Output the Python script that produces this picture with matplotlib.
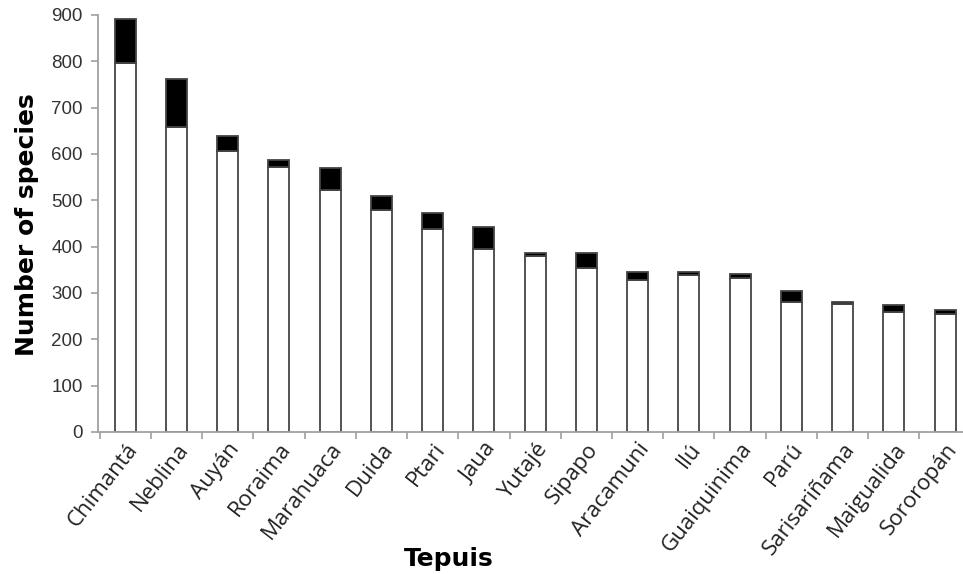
import matplotlib
matplotlib.use("Agg")
import matplotlib.pyplot as plt
import numpy as np

tepuis = ["Chimantá", "Neblina", "Auyán", "Roraima", "Marahuaca", "Duida", "Ptari",
          "Jaua", "Yutajé", "Sipapo", "Aracamuni", "Ilú", "Guaiquinima", "Parú",
          "Sarisariñama", "Maigualida", "Sororopán"]
shared_species = [796, 659, 606, 571, 523, 479, 438, 395, 379, 353, 328, 338, 332, 281, 276, 258, 255]
endemic_species = [95, 103, 32, 16, 47, 31, 35, 48, 8, 34, 17, 7, 10, 24, 5, 16, 8]
y_ticks = [0, 100, 200, 300, 400, 500, 600, 700, 800, 900]

fig = plt.figure(figsize=(9.63, 5.74), dpi=100)
ax = fig.add_axes([0.1018, 0.2474, 0.8982, 0.7265])

x = np.arange(len(tepuis))
w = 0.41
edge = "#444444"
ax.bar(x, shared_species, width=w, color="white", edgecolor=edge, linewidth=1.3, zorder=2)
ax.bar(x, endemic_species, width=w, bottom=shared_species, color="black",
       edgecolor=edge, linewidth=1.3, zorder=2)

ax.set_xlim(-0.53, 16.35)
ax.set_ylim(0, 900)
ax.set_yticks(y_ticks)

spine_c = "#a0a0a0"
for s in ["top", "right"]:
    ax.spines[s].set_visible(False)
for s in ["left", "bottom"]:
    ax.spines[s].set_color(spine_c)
    ax.spines[s].set_linewidth(1.3)

ax.tick_params(axis="y", direction="out", length=5, width=1.2, color=spine_c,
               labelsize=13.5, labelcolor="#333333", pad=6)
for lab in ax.get_yticklabels():
    lab.set_family("Liberation Sans")

ax.set_xticks(x)
ax.set_xticklabels(tepuis, rotation=52, ha="right", rotation_mode="anchor",
                   fontsize=16, color="#222222", family="Open Sans")
ax.tick_params(axis="x", which="major", length=0, pad=5)
ax.set_xticks(np.arange(-0.5, len(tepuis) - 0.5, 1.0), minor=True)
ax.tick_params(axis="x", which="minor", direction="out", length=5, width=1.2, color=spine_c)

fig.text(0.028, (574 - 225) / 574, "Number of species", rotation=90, ha="center",
         va="center", fontsize=18, fontweight="bold", family="DejaVu Sans")
fig.text(449 / 963, 1 - 559 / 574, "Tepuis", ha="center", va="center",
         fontsize=18, fontweight="bold", family="DejaVu Sans")

fig.savefig("out.png", dpi=100)
